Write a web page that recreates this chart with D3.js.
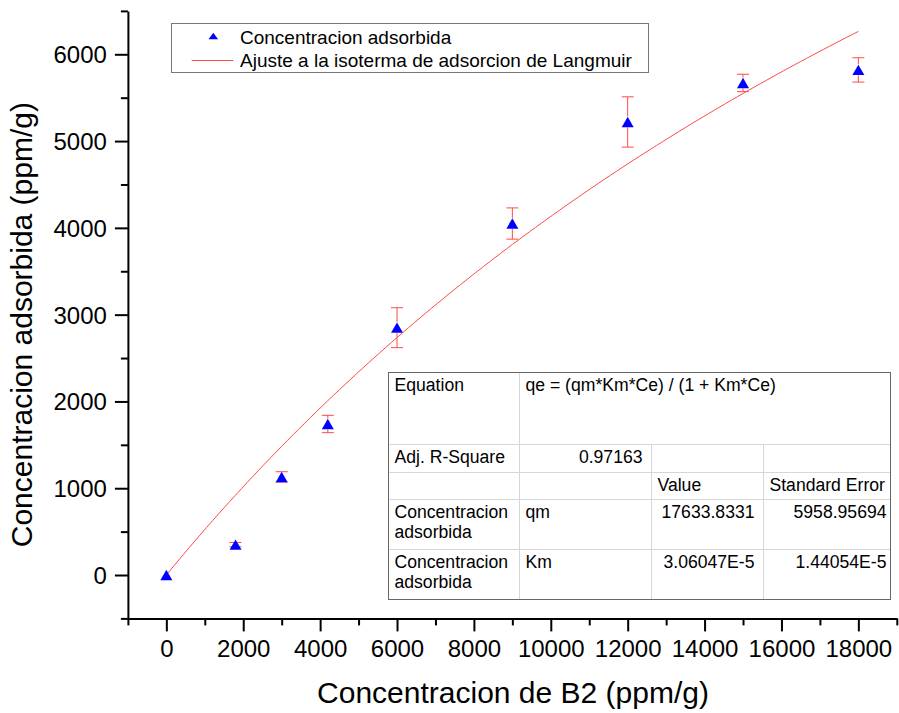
<!DOCTYPE html>
<html>
<head>
<meta charset="utf-8">
<script src="https://cdn.jsdelivr.net/npm/d3@7"></script>
<style>
  html, body { margin: 0; padding: 0; background: #fff; }
  svg { display: block; font-family: "Liberation Sans", Arial, sans-serif; }
</style>
</head>
<body>
<svg id="chart" width="899" height="713"></svg>
<script>
// Measured adsorption data (Ce in ppm/g, qe in ppm/g) with standard deviations
const concB2 = [0, 1800, 3000, 4200, 6000, 9000, 12000, 15000, 18000];
const adsorbed = [0, 350, 1130, 1740, 2850, 4050, 5220, 5670, 5820];
const adsorbedErr = [0, 25, 60, 100, 230, 180, 290, 100, 140];

// Langmuir fit parameters (from the fit report)
const qm = 17633.8331;
const Km = 3.06047E-5;

const xTicks = [0, 2000, 4000, 6000, 8000, 10000, 12000, 14000, 16000, 18000];
const xMinorTicks = [-1000, 1000, 3000, 5000, 7000, 9000, 11000, 13000, 15000, 17000, 19000];
const yTicks = [0, 1000, 2000, 3000, 4000, 5000, 6000];
const yMinorTicks = [-500, 500, 1500, 2500, 3500, 4500, 5500, 6500];

const legendLabels = ["Concentracion adsorbida", "Ajuste a la isoterma de adsorcion de Langmuir"];
const xTitle = "Concentracion de B2 (ppm/g)";
const yTitle = "Concentracion adsorbida (ppm/g)";

// Fit report table
const reportRows = [
  { label: ["Equation"], cells: [{ text: "qe = (qm*Km*Ce) / (1 + Km*Ce)", col: 1, align: "start" }] },
  { label: ["Adj. R-Square"], cells: [{ text: "0.97163", col: 1, align: "end" }] },
  { label: [""], cells: [{ text: "Value", col: 2, align: "start" }, { text: "Standard Error", col: 3, align: "start" }] },
  { label: ["Concentracion", "adsorbida"], cells: [{ text: "qm", col: 1, align: "start" }, { text: "17633.8331", col: 2, align: "end" }, { text: "5958.95694", col: 3, align: "end" }] },
  { label: ["Concentracion", "adsorbida"], cells: [{ text: "Km", col: 1, align: "start" }, { text: "3.06047E-5", col: 2, align: "end" }, { text: "1.44054E-5", col: 3, align: "end" }] }
];

const svg = d3.select("#chart");
const RED = "#ff4a4a";
const BLUE = "#0000ff";

const x = d3.scaleLinear().domain([-1000, 19000]).range([127.9, 896.8]);
const y = d3.scaleLinear().domain([-500, 6500]).range([618.4, 10.9]);

// ---- Axes ----
function styleAxis(g) {
  g.select(".domain").attr("stroke", "#000").attr("stroke-width", 2);
  g.selectAll(".tick line").attr("stroke", "#000").attr("stroke-width", 2);
}

const xAxisG = svg.append("g").attr("transform", `translate(0,${y(-500)})`);
xAxisG.append("g")
  .call(d3.axisBottom(x).tickValues(xMinorTicks).tickSize(7).tickSizeOuter(0).tickFormat(""))
  .call(styleAxis);
xAxisG.append("g")
  .call(d3.axisBottom(x).tickValues(xTicks).tickSize(13).tickSizeOuter(0).tickFormat(d3.format("d")))
  .call(styleAxis)
  .call(g => g.select(".domain").remove())
  .call(g => g.selectAll("text")
    .attr("y", 39).attr("dy", null)
    .attr("fill", "#000").attr("font-size", "24px")
    .attr("font-family", "'Liberation Sans', Arial, sans-serif"));

const yAxisG = svg.append("g").attr("transform", `translate(${x(-1000)},0)`);
yAxisG.append("g")
  .call(d3.axisLeft(y).tickValues(yMinorTicks).tickSize(7).tickSizeOuter(0).tickFormat(""))
  .call(styleAxis);
yAxisG.append("g")
  .call(d3.axisLeft(y).tickValues(yTicks).tickSize(13).tickSizeOuter(0).tickFormat(d3.format("d")))
  .call(styleAxis)
  .call(g => g.select(".domain").remove())
  .call(g => g.selectAll("text")
    .attr("x", -21).attr("dy", "0.35em")
    .attr("fill", "#000").attr("font-size", "24px")
    .attr("font-family", "'Liberation Sans', Arial, sans-serif"));

// Axis titles
svg.append("text")
  .attr("x", 513).attr("y", 703)
  .attr("text-anchor", "middle").attr("font-size", "30px").attr("fill", "#000")
  .text(xTitle);
svg.append("text")
  .attr("transform", `translate(32,${(y(-500) + y(6500)) / 2 + 10}) rotate(-90)`)
  .attr("text-anchor", "middle").attr("font-size", "30px").attr("fill", "#000")
  .text(yTitle);

// ---- Langmuir fit curve ----
const fitX = d3.range(0, 18000 + 1, 150);
const fitPts = fitX.map(c => [c, qm * Km * c / (1 + Km * c)]);
svg.append("path")
  .datum(fitPts)
  .attr("fill", "none").attr("stroke", RED).attr("stroke-width", 1)
  .attr("d", d3.line().x(d => x(d[0])).y(d => y(d[1])));

// ---- Error bars ----
const pts = concB2.map((c, i) => ({ c, v: adsorbed[i], e: adsorbedErr[i] }));
const gap = 5.5, capHalf = 6;
const eb = svg.append("g").attr("stroke", RED).attr("stroke-width", 1).attr("fill", "none");
pts.filter(d => d.e > 0).forEach(d => {
  const cx = x(d.c), cy = y(d.v), top = y(d.v + d.e), bot = y(d.v - d.e);
  if (cy - gap > top) eb.append("line").attr("x1", cx).attr("x2", cx).attr("y1", top).attr("y2", cy - gap);
  if (cy + gap < bot) eb.append("line").attr("x1", cx).attr("x2", cx).attr("y1", cy + gap).attr("y2", bot);
  eb.append("line").attr("x1", cx - capHalf).attr("x2", cx + capHalf).attr("y1", top).attr("y2", top);
  eb.append("line").attr("x1", cx - capHalf).attr("x2", cx + capHalf).attr("y1", bot).attr("y2", bot);
});

// ---- Triangle markers ----
const tri = (hw, hh) => `M0,${-hh}L${hw},${hh}L${-hw},${hh}Z`;
svg.append("g").selectAll("path")
  .data(pts).join("path")
  .attr("transform", d => `translate(${x(d.c)},${y(d.v)})`)
  .attr("d", tri(6, 5.2))
  .attr("fill", BLUE);

// ---- Legend ----
const lg = svg.append("g");
lg.append("rect").attr("x", 171.5).attr("y", 23.5).attr("width", 477).attr("height", 49)
  .attr("fill", "#fff").attr("stroke", "#777").attr("stroke-width", 1);
lg.append("path").attr("transform", "translate(213.3,36)").attr("d", tri(4.8, 3.2)).attr("fill", BLUE);
lg.append("line").attr("x1", 191.7).attr("x2", 233.3).attr("y1", 60.5).attr("y2", 60.5)
  .attr("stroke", RED).attr("stroke-width", 1);
lg.selectAll("text").data(legendLabels).join("text")
  .attr("x", 240).attr("y", (d, i) => 43.5 + i * 23.3)
  .attr("font-size", "19px").attr("fill", "#000")
  .text(d => d);

// ---- Fit report table ----
const colX = [388.5, 519.5, 651.5, 763.5, 890.5];
const rowY = [372.5, 444.5, 472.5, 499.5, 549.5, 599.5];
const tb = svg.append("g");
tb.append("rect").attr("x", colX[0]).attr("y", rowY[0])
  .attr("width", colX[4] - colX[0]).attr("height", rowY[5] - rowY[0])
  .attr("fill", "#fff");
const GRID = "#d6d6d6";
rowY.slice(1, 5).forEach(ry => {
  tb.append("line").attr("x1", colX[0]).attr("x2", colX[4]).attr("y1", ry).attr("y2", ry)
    .attr("stroke", GRID).attr("stroke-width", 1);
});
tb.append("line").attr("x1", colX[1]).attr("x2", colX[1]).attr("y1", rowY[0]).attr("y2", rowY[5])
  .attr("stroke", GRID).attr("stroke-width", 1);
[colX[2], colX[3]].forEach(cx => {
  tb.append("line").attr("x1", cx).attr("x2", cx).attr("y1", rowY[1]).attr("y2", rowY[5])
    .attr("stroke", GRID).attr("stroke-width", 1);
});
tb.append("rect").attr("x", colX[0]).attr("y", rowY[0])
  .attr("width", colX[4] - colX[0]).attr("height", rowY[5] - rowY[0])
  .attr("fill", "none").attr("stroke", "#666").attr("stroke-width", 1);

const fs = "17.6px";
const pad = 6, base = 18, line2 = 20.8;
const padRight = [0, 9, 9, 4];
reportRows.forEach((row, ri) => {
  const by = rowY[ri] + base;
  row.label.forEach((t, li) => {
    if (t) tb.append("text").attr("x", colX[0] + pad).attr("y", by + li * line2)
      .attr("font-size", fs).attr("fill", "#000").text(t);
  });
  row.cells.forEach(c => {
    const tx = c.align === "end" ? colX[c.col + 1] - padRight[c.col] : colX[c.col] + pad;
    tb.append("text").attr("x", tx).attr("y", by)
      .attr("text-anchor", c.align).attr("font-size", fs).attr("fill", "#000").text(c.text);
  });
});
</script>
</body>
</html>
